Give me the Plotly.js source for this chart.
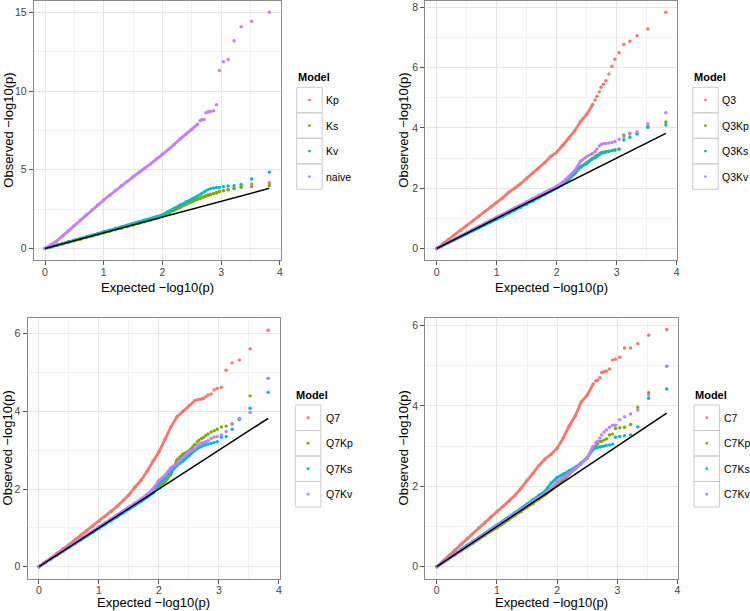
<!DOCTYPE html>
<html><head><meta charset="utf-8">
<script src="https://cdn.plot.ly/plotly-3.0.1.min.js"></script>
<style>html,body{margin:0;padding:0;background:#fff}#chart{width:750px;height:611px}</style>
</head><body><div id="chart"></div>
<script>
// Expected -log10(p): dense part (read at 0.1 steps) and the individual upper-tail points
const X_DENSE = [0,0.1,0.2,0.3,0.4,0.5,0.6,0.7,0.8,0.9,1.0,1.1,1.2,1.3,1.4,1.5,1.6,1.7,1.8,1.9,2.0,2.1,2.2,2.3,2.4,2.5,2.6];
const X_TAIL = [3.82,3.52,3.34,3.22,3.12,3.04,2.97,2.92,2.87,2.82,2.78,2.74,2.71,2.67,2.64];
const REF_X = [0, 3.82];
const REF_Y = [0, 3.82];

// Panel 1
const P1_NAMES = ['Kp','Ks','Kv','naive'];
const P1_KP_D = [0,0.1,0.2,0.3,0.4,0.5,0.6,0.7,0.8,0.9,1.0,1.1,1.21,1.31,1.42,1.52,1.63,1.73,1.84,1.95,2.07,2.28,2.46,2.66,2.84,3.0,3.16];
const P1_KP_T = [4.18,4.1,3.92,3.83,3.75,3.68,3.62,3.56,3.5,3.45,3.4,3.35,3.3,3.25,3.2];
const P1_KS_D = [0,0.1,0.19,0.29,0.39,0.49,0.59,0.69,0.79,0.89,0.99,1.09,1.19,1.29,1.39,1.49,1.59,1.7,1.81,1.92,2.05,2.25,2.42,2.62,2.8,2.97,3.13];
const P1_KS_T = [4.0,3.93,3.87,3.8,3.72,3.66,3.6,3.52,3.47,3.42,3.37,3.33,3.28,3.22,3.18];
const P1_KV_D = [0,0.11,0.22,0.32,0.43,0.53,0.64,0.74,0.85,0.95,1.06,1.16,1.27,1.37,1.48,1.58,1.68,1.79,1.89,2.0,2.13,2.35,2.55,2.77,2.96,3.12,3.33];
const P1_KV_T = [4.85,4.41,4.07,3.99,3.97,3.93,3.88,3.88,3.84,3.8,3.74,3.66,3.58,3.5,3.42];
const P1_NAIVE_D = [0,0.22,0.48,0.8,1.13,1.47,1.8,2.13,2.45,2.77,3.08,3.38,3.68,3.98,4.28,4.56,4.83,5.1,5.37,5.68,5.98,6.28,6.6,6.95,7.25,7.55,7.9];
const P1_NAIVE_T = [15.0,14.43,14.09,13.19,12.0,11.86,11.31,9.13,8.75,8.7,8.68,8.62,8.2,8.18,8.12];

// Panel 2
const P2_NAMES = ['Q3','Q3Kp','Q3Ks','Q3Kv'];
const P2_Q3_D = [0,0.15,0.3,0.45,0.6,0.76,0.91,1.07,1.22,1.38,1.53,1.68,1.86,2.0,2.15,2.33,2.5,2.67,2.85,3.05,3.2,3.42,3.65,3.9,4.22,4.45,4.78];
const P2_Q3_T = [7.84,7.29,7.06,6.88,6.77,6.5,6.28,6.05,5.79,5.57,5.45,5.35,5.2,5.05,4.93];
const P2_KP_D = [0,0.1,0.2,0.3,0.4,0.5,0.6,0.7,0.8,0.9,1.0,1.1,1.2,1.3,1.4,1.5,1.6,1.71,1.81,1.91,2.02,2.15,2.3,2.5,2.72,2.85,3.0];
const P2_KP_T = [4.2,4.05,3.82,3.8,3.77,3.3,3.27,3.25,3.23,3.22,3.2,3.18,3.14,3.1,3.05];
const P2_KS_D = [0,0.1,0.19,0.29,0.39,0.49,0.59,0.68,0.78,0.88,0.97,1.07,1.17,1.27,1.37,1.47,1.57,1.68,1.79,1.9,2.0,2.12,2.28,2.48,2.7,2.82,2.98];
const P2_KS_T = [4.1,4.02,3.8,3.69,3.6,3.3,3.27,3.25,3.22,3.2,3.18,3.15,3.1,3.05,3.0];
const P2_KV_D = [0,0.1,0.21,0.31,0.42,0.52,0.63,0.73,0.83,0.93,1.03,1.13,1.24,1.34,1.44,1.55,1.65,1.76,1.86,1.96,2.07,2.2,2.38,2.58,2.9,3.05,3.15];
const P2_KV_T = [4.51,4.14,3.88,3.83,3.7,3.63,3.55,3.52,3.5,3.49,3.48,3.45,3.4,3.3,3.22];

// Panel 3
const P3_NAMES = ['Q7','Q7Kp','Q7Ks','Q7Kv'];
const P3_Q7_D = [0,0.11,0.23,0.34,0.46,0.57,0.69,0.81,0.93,1.05,1.17,1.29,1.42,1.55,1.7,1.85,2.05,2.22,2.45,2.72,2.96,3.28,3.6,3.86,4.0,4.15,4.28];
const P3_Q7_T = [6.09,5.61,5.32,5.25,5.06,4.62,4.59,4.55,4.45,4.42,4.38,4.33,4.32,4.31,4.3];
const P3_KP_D = [0,0.1,0.2,0.3,0.4,0.5,0.6,0.7,0.8,0.9,1.0,1.1,1.2,1.3,1.4,1.5,1.6,1.72,1.83,1.92,2.05,2.18,2.38,2.75,2.9,2.98,3.15];
const P3_KP_T = [4.85,4.4,3.82,3.68,3.62,3.6,3.54,3.5,3.47,3.42,3.38,3.33,3.3,3.26,3.22];
const P3_KS_D = [0,0.1,0.2,0.29,0.39,0.49,0.59,0.69,0.79,0.88,0.98,1.08,1.18,1.28,1.38,1.48,1.58,1.68,1.78,1.9,2.12,2.28,2.44,2.6,2.72,2.85,3.0];
const P3_KS_T = [4.49,4.08,3.79,3.54,3.35,3.33,3.22,3.2,3.18,3.16,3.14,3.12,3.1,3.07,3.04];
const P3_KV_D = [0,0.11,0.21,0.31,0.41,0.52,0.62,0.72,0.82,0.92,1.03,1.13,1.23,1.33,1.43,1.54,1.64,1.74,1.86,2.0,2.22,2.35,2.55,2.65,2.82,2.95,3.05];
const P3_KV_T = [4.85,3.97,3.82,3.67,3.48,3.39,3.35,3.34,3.3,3.25,3.22,3.2,3.18,3.16,3.12];

// Panel 4
const P4_NAMES = ['C7','C7Kp','C7Ks','C7Kv'];
const P4_C7_D = [0,0.13,0.27,0.41,0.55,0.69,0.83,0.97,1.1,1.24,1.37,1.5,1.63,1.78,1.95,2.15,2.32,2.52,2.68,2.8,2.95,3.2,3.5,3.75,4.1,4.27,4.55];
const P4_C7_T = [5.9,5.76,5.55,5.44,5.44,5.21,5.16,5.14,4.92,4.87,4.85,4.83,4.7,4.64,4.62];
const P4_KP_D = [0,0.1,0.19,0.29,0.39,0.48,0.58,0.68,0.78,0.88,0.97,1.07,1.17,1.27,1.37,1.47,1.57,1.68,1.79,1.9,2.02,2.15,2.3,2.45,2.58,2.7,2.98];
const P4_KP_T = [4.99,4.33,3.96,3.54,3.47,3.46,3.44,3.3,3.28,3.18,3.15,3.12,3.11,3.05,3.0];
const P4_KS_D = [0,0.11,0.22,0.32,0.43,0.53,0.63,0.73,0.83,0.93,1.03,1.13,1.23,1.34,1.45,1.56,1.67,1.78,1.88,2.08,2.22,2.3,2.38,2.47,2.58,2.72,2.92];
const P4_KS_T = [4.42,4.19,3.48,3.28,3.26,3.24,3.22,3.05,3.03,3.02,3.0,2.99,2.98,2.97,2.95];
const P4_KV_D = [0,0.1,0.2,0.3,0.4,0.5,0.6,0.7,0.8,0.9,1.0,1.1,1.2,1.3,1.41,1.51,1.62,1.72,1.83,1.95,2.12,2.22,2.32,2.43,2.56,2.7,3.0];
const P4_KV_T = [4.99,4.27,3.9,3.8,3.73,3.66,3.52,3.52,3.47,3.4,3.35,3.28,3.2,3.12,3.08];

const COLORS = ['#F8766D','#7CAE00','#00BFC4','#C77CFF'];
const X_TICKS = [0,1,2,3,4];
const X_TITLE = 'Expected \u2212log10(p)';
const Y_TITLE = 'Observed \u2212log10(p)';
const LEGEND_TITLE = 'Model';

const W = 750, H = 611;
const FONT = '"Liberation Sans", Arial, Helvetica, sans-serif';

const panels = [
  {names:P1_NAMES, dense:[P1_KP_D,P1_KS_D,P1_KV_D,P1_NAIVE_D], tail:[P1_KP_T,P1_KS_T,P1_KV_T,P1_NAIVE_T],
   px:[33.8,280.5], py:[0.5,260.3], yr:[-0.75,15.75], ydt:5, box:[296.7,87.3], lab:325.2, title:76.7, ytx:8.3, bottom:false},
  {names:P2_NAMES, dense:[P2_Q3_D,P2_KP_D,P2_KS_D,P2_KV_D], tail:[P2_Q3_T,P2_KP_T,P2_KS_T,P2_KV_T],
   px:[425.2,677.3], py:[0.5,260.3], yr:[-0.392,8.232], ydt:2, box:[692.7,87.3], lab:720.5, title:76.7, ytx:403.3, bottom:false},
  {names:P3_NAMES, dense:[P3_Q7_D,P3_KP_D,P3_KS_D,P3_KV_D], tail:[P3_Q7_T,P3_KP_T,P3_KS_T,P3_KV_T],
   px:[27.5,279.6], py:[318.4,578.5], yr:[-0.3045,6.3945], ydt:2, box:[295.3,405], lab:324.5, title:395, ytx:7, bottom:true},
  {names:P4_NAMES, dense:[P4_C7_D,P4_KP_D,P4_KS_D,P4_KV_D], tail:[P4_C7_T,P4_KP_T,P4_KS_T,P4_KV_T],
   px:[425.2,678.2], py:[317.7,578.6], yr:[-0.295,6.195], ydt:2, box:[694,405], lab:722.8, title:395, ytx:403.3, bottom:true}
];

const data = [];
const layout = {
  width: W, height: H, autosize: false,
  margin: {l:0, r:0, t:0, b:0},
  paper_bgcolor: '#fff', plot_bgcolor: '#fff',
  font: {family: FONT, color: '#000'},
  showlegend: false,
  shapes: [], annotations: []
};
const BOX = 25.5;

panels.forEach((p, k) => {
  const n = k + 1;
  const xa = 'x' + (n === 1 ? '' : n), ya = 'y' + (n === 1 ? '' : n);
  p.names.forEach((name, i) => {
    data.push({type:'scatter', mode:'lines+markers', x:X_DENSE, y:p.dense[i], xaxis:xa, yaxis:ya, name:name,
      line:{color:COLORS[i], width:2.8}, marker:{color:COLORS[i], size:3.4}, hoverinfo:'skip'});
    data.push({type:'scatter', mode:'markers', x:X_TAIL, y:p.tail[i], xaxis:xa, yaxis:ya, name:name,
      marker:{color:COLORS[i], size:3.4}});
  });
  data.push({type:'scatter', mode:'lines', x:REF_X, y:REF_Y, xaxis:xa, yaxis:ya, name:'y = x',
    line:{color:'#000', width:1.5}, hoverinfo:'skip'});

  const axCommon = {showgrid:true, gridcolor:'#E5E5E5', gridwidth:1, zeroline:false,
    showline:true, mirror:true, linecolor:'#8C8C8C', linewidth:1,
    ticks:'outside', ticklen:4, tickcolor:'#555', tickwidth:1,
    tickfont:{family:FONT, size:10.5, color:'#444'}, fixedrange:true};
  layout['xaxis' + (n === 1 ? '' : n)] = Object.assign({}, axCommon, {
    domain:[p.px[0]/W, p.px[1]/W], range:[-0.191, 4.011], tickvals:X_TICKS, anchor:ya,
    ticklabelstandoff:-2,
    minor:{dtick:0.5, showgrid:true, gridcolor:'#F3F3F3'}, dtick:1, tick0:0});
  layout['yaxis' + (n === 1 ? '' : n)] = Object.assign({}, axCommon, {
    domain:[1 - p.py[1]/H, 1 - p.py[0]/H], range:p.yr, dtick:p.ydt, tick0:0, anchor:xa,
    minor:{dtick:p.ydt/2, showgrid:true, gridcolor:'#F3F3F3'}});

  // legend (ggplot-style key boxes)
  layout.annotations.push({xref:'paper', yref:'paper', x:(p.box[0] - 1)/W, y:1 - p.title/H,
    xanchor:'left', yanchor:'middle', showarrow:false, text:'<b>' + LEGEND_TITLE + '</b>',
    font:{family:FONT, size:11, color:'#000'}});
  p.names.forEach((name, j) => {
    const top = p.box[1] + j*BOX, cy = top + BOX/2, cx = p.box[0] + BOX/2;
    layout.shapes.push({type:'rect', xref:'paper', yref:'paper',
      x0:p.box[0]/W, x1:(p.box[0] + BOX)/W, y0:1 - top/H, y1:1 - (top + BOX)/H,
      line:{color:'#CCCCCC', width:1}, fillcolor:'rgba(0,0,0,0)', layer:'below'});
    layout.shapes.push({type:'circle', xref:'paper', yref:'paper', xsizemode:'pixel', ysizemode:'pixel',
      xanchor:cx/W, yanchor:1 - cy/H, x0:-1.4, x1:1.4, y0:-1.4, y1:1.4,
      fillcolor:COLORS[j], line:{width:0}, layer:'above'});
    layout.annotations.push({xref:'paper', yref:'paper', x:(p.lab - 1)/W, y:1 - cy/H,
      xanchor:'left', yanchor:'middle', showarrow:false, text:name,
      font:{family:FONT, size:10.5, color:'#000'}});
  });
  // axis titles
  const xt = p.bottom
    ? {y:0, yanchor:'bottom'}
    : {y:1 - (p.py[1] + 27)/H, yanchor:'middle'};
  layout.annotations.push(Object.assign({xref:'paper', yref:'paper', x:(p.px[0] + p.px[1])/2/W,
    text:X_TITLE, showarrow:false, xanchor:'center', borderpad:0, font:{family:FONT, size:13, color:'#000'}}, xt));
  layout.annotations.push({xref:'paper', yref:'paper', x:p.ytx/W, y:1 - (p.py[0] + p.py[1])/2/H,
    text:Y_TITLE, showarrow:false, textangle:-90, xanchor:'center', yanchor:'middle', font:{family:FONT, size:13, color:'#000'}});
});

Plotly.newPlot('chart', data, layout, {staticPlot:true});
</script></body></html>
